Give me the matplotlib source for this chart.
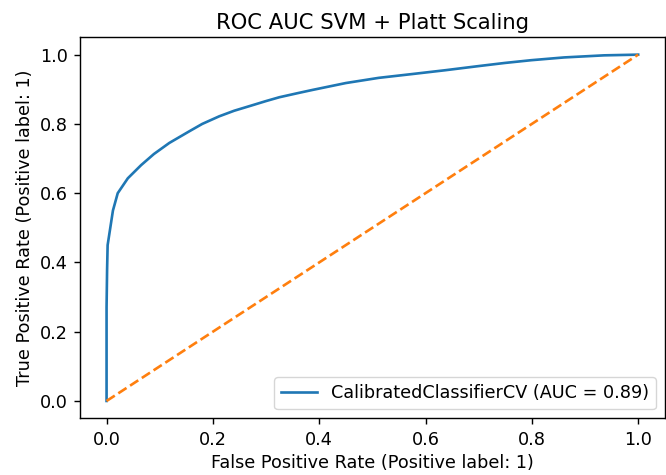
import matplotlib
matplotlib.use("Agg")
import matplotlib.pyplot as plt

# ROC curve points
fpr = [0.0, 0.0, 0.001, 0.002, 0.006, 0.012, 0.021, 0.040, 0.065, 0.089,
       0.118, 0.156, 0.180, 0.212, 0.240, 0.268, 0.300, 0.325, 0.360,
       0.387, 0.450, 0.512, 0.575, 0.637, 0.700, 0.749, 0.799, 0.861,
       0.936, 1.0]
tpr = [0.0, 0.27, 0.38, 0.45, 0.49, 0.55, 0.60, 0.643, 0.681, 0.713,
       0.745, 0.779, 0.800, 0.822, 0.838, 0.851, 0.866, 0.877, 0.889,
       0.898, 0.918, 0.933, 0.944, 0.955, 0.967, 0.976, 0.984, 0.992,
       0.998, 1.0]

# chance line
chance_x = [0, 1]
chance_y = [0, 1]

s = 1.27  # reference is drawn a bit larger than default
plt.rcParams['font.size'] = 10 * s
plt.rcParams['axes.titlesize'] = 12 * s
plt.rcParams['axes.linewidth'] = 0.8 * s
plt.rcParams['xtick.major.size'] = 3.5 * s
plt.rcParams['ytick.major.size'] = 3.5 * s
plt.rcParams['xtick.major.width'] = 0.8 * s
plt.rcParams['ytick.major.width'] = 0.8 * s
plt.rcParams['xtick.major.pad'] = 3.5 * s
plt.rcParams['ytick.major.pad'] = 3.5 * s

fig = plt.figure(figsize=(6.66, 4.75), dpi=100)
ax = fig.add_axes([0.1201, 0.1194, 0.878, 0.802])

ax.plot(fpr, tpr, color='C0', linewidth=1.5 * s, label='CalibratedClassifierCV (AUC = 0.89)')
ax.plot(chance_x, chance_y, linestyle='--', color='C1', linewidth=1.5 * s)

ax.set_xlabel('False Positive Rate (Positive label: 1)')
ax.set_ylabel('True Positive Rate (Positive label: 1)')
ax.set_title('ROC AUC SVM + Platt Scaling')
ax.legend(loc='lower right')

plt.savefig('out.png', dpi=100)
